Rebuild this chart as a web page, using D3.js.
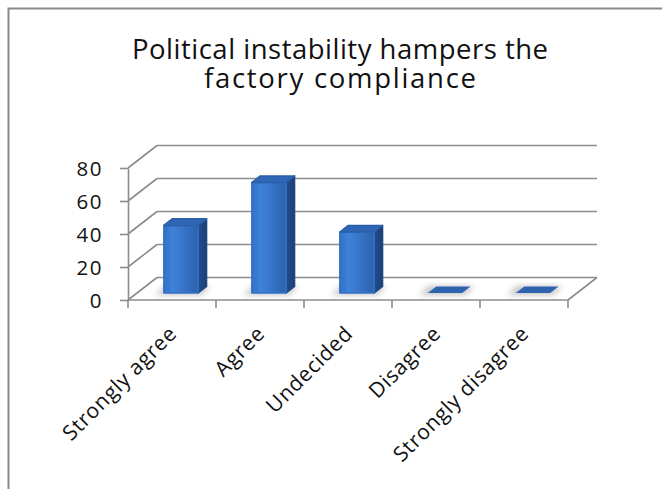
<!DOCTYPE html>
<html>
<head>
<meta charset="utf-8">
<script src="https://cdn.jsdelivr.net/npm/d3@7"></script>
<style>
  body { margin: 0; background: #fff; }
  svg { display: block; font-family: "Open Sans", Lato, sans-serif; }
</style>
</head>
<body>
<svg id="chart" width="662" height="489"></svg>
<script>
// data
const categories = ["Strongly agree", "Agree", "Undecided", "Disagree", "Strongly disagree"];
const values = [41, 67, 37, 0, 0];
const yTicks = [0, 20, 40, 60, 80];
const titleLines = ["Political instability hampers the", "factory compliance"];

const svg = d3.select("#chart");
const defs = svg.append("defs");

// chart frame (only top & left edges show in the crop)
svg.append("rect")
  .attr("x", 8.5).attr("y", 8.5)
  .attr("width", 700).attr("height", 520)
  .attr("fill", "none")
  .attr("stroke", "#8a8a8a")
  .attr("stroke-width", 2);

// scales
const x = d3.scaleBand().domain(categories).range([128, 568]);
const y = d3.scaleLinear().domain([0, 80]).range([300, 168]);
const DX = 29, DY = -22.5;       // full depth offset of the 3d box
const proj = (px, py, d) => [px + DX * d, py + DY * d];
const barFront = 0.31, barBack = 0.6;
const barW = x.bandwidth() * 0.39;

// title, one text with a tspan per line; spacing stretched to the original widths
const titleWidths = [416, 272];
svg.append("text")
  .attr("text-anchor", "middle")
  .attr("font-size", 27.5)
  .attr("fill", "#111")
  .selectAll("tspan")
  .data(titleLines)
  .join("tspan")
  .attr("x", 340)
  .attr("y", (d, i) => 59 + i * 29)
  .attr("textLength", (d, i) => titleWidths[i])
  .attr("lengthAdjust", "spacing")
  .text(d => d);

// walls and gridlines
const gridColor = "#8c8c8c";
const grid = svg.append("g")
  .attr("fill", "none")
  .attr("stroke", gridColor)
  .attr("stroke-width", 1.6);

// back wall lines
grid.selectAll(".back")
  .data(yTicks)
  .join("line")
  .attr("x1", d => proj(x.range()[0], y(d), 1)[0])
  .attr("y1", d => proj(x.range()[0], y(d), 1)[1])
  .attr("x2", d => proj(x.range()[1], y(d), 1)[0])
  .attr("y2", d => proj(x.range()[1], y(d), 1)[1]);

// side wall diagonals
grid.selectAll(".side")
  .data(yTicks)
  .join("line")
  .attr("x1", x.range()[0])
  .attr("y1", d => y(d))
  .attr("x2", d => proj(x.range()[0], y(d), 1)[0])
  .attr("y2", d => proj(x.range()[0], y(d), 1)[1]);

// floor: front edge and right edge
grid.append("line")
  .attr("x1", x.range()[0]).attr("y1", y(0))
  .attr("x2", x.range()[1]).attr("y2", y(0));
grid.append("line")
  .attr("x1", x.range()[1]).attr("y1", y(0))
  .attr("x2", proj(x.range()[1], y(0), 1)[0])
  .attr("y2", proj(x.range()[1], y(0), 1)[1]);

// y axis
const yAxis = svg.append("g")
  .attr("transform", `translate(${x.range()[0]},0)`)
  .call(d3.axisLeft(y).tickValues(yTicks).tickSize(8).tickSizeOuter(0).tickPadding(17));
yAxis.select(".domain").attr("stroke", gridColor).attr("stroke-width", 1.6);
yAxis.selectAll(".tick line").attr("stroke", gridColor).attr("stroke-width", 1.6);
yAxis.selectAll(".tick text")
  .attr("font-size", 20.5)
  .attr("letter-spacing", 1.5)
  .attr("font-family", "'Open Sans', sans-serif")
  .attr("fill", "#111")
  .attr("dy", "0.38em");

// x axis ticks at band boundaries
const bounds = categories.map(c => x(c)).concat([x.range()[1]]);
svg.append("g").selectAll("line")
  .data(bounds)
  .join("line")
  .attr("x1", d => d).attr("x2", d => d)
  .attr("y1", y(0)).attr("y2", y(0) + 8)
  .attr("stroke", gridColor)
  .attr("stroke-width", 1.6);

// x labels
svg.append("g").selectAll("text")
  .data(categories)
  .join("text")
  .attr("transform", d => `translate(${x(d) + x.bandwidth() / 2 + 6},335) rotate(-45)`)
  .attr("text-anchor", "end")
  .attr("font-size", 21)
  .attr("letter-spacing", 0.7)
  .attr("fill", "#111")
  .text(d => d);

// gradients
const gFront = defs.append("linearGradient").attr("id", "gFront")
  .attr("x1", 0).attr("x2", 1).attr("y1", 0).attr("y2", 0);
gFront.append("stop").attr("offset", "0%").attr("stop-color", "#3170c4");
gFront.append("stop").attr("offset", "25%").attr("stop-color", "#3f82da");
gFront.append("stop").attr("offset", "100%").attr("stop-color", "#2c62b0");
const gSide = defs.append("linearGradient").attr("id", "gSide")
  .attr("x1", 0).attr("x2", 1).attr("y1", 0).attr("y2", 0);
gSide.append("stop").attr("offset", "0%").attr("stop-color", "#234f8f");
gSide.append("stop").attr("offset", "100%").attr("stop-color", "#1b3f73");

defs.append("filter").attr("id", "blur")
  .attr("x", "-50%").attr("y", "-50%").attr("width", "200%").attr("height", "200%")
  .append("feGaussianBlur").attr("stdDeviation", 3);

const bars = values.map((v, i) => ({ cat: categories[i], v }));
const pts = a => a.map(p => p.join(",")).join(" ");

// shadows on the floor
svg.append("g").selectAll("polygon")
  .data(bars)
  .join("polygon")
  .attr("points", d => {
    const l = x(d.cat) + (x.bandwidth() - barW) / 2 - 7, r = l + barW + 11;
    return pts([proj(l, y(0), barFront - 0.06), proj(r, y(0), barFront - 0.06),
                proj(r, y(0), barBack), proj(l, y(0), barBack)]);
  })
  .attr("fill", "#8f8f8f")
  .attr("opacity", 0.6)
  .attr("filter", "url(#blur)");

// bars
const barG = svg.append("g").selectAll("g")
  .data(bars)
  .join("g");

barG.each(function(d) {
  const g = d3.select(this);
  const l = x(d.cat) + (x.bandwidth() - barW) / 2, r = l + barW;
  const top = y(d.v), bot = y(0);
  if (d.v === 0) {
    g.append("polygon")
      .attr("points", pts([proj(l, bot, barFront), proj(r, bot, barFront),
                           proj(r, bot, barBack), proj(l, bot, barBack)]))
      .attr("fill", "#2e63ad");
    return;
  }
  const f = [proj(l, top, barFront), proj(r, top, barFront), proj(r, bot, barFront), proj(l, bot, barFront)];
  const s = [proj(r, top, barFront), proj(r, top, barBack), proj(r, bot, barBack), proj(r, bot, barFront)];
  const t = [proj(l, top, barFront), proj(l, top, barBack), proj(r, top, barBack), proj(r, top, barFront)];
  g.append("polygon").attr("points", pts(s)).attr("fill", "url(#gSide)")
    .attr("stroke", "#1d4680").attr("stroke-width", 1.5).attr("stroke-linejoin", "round");
  g.append("polygon").attr("points", pts(f)).attr("fill", "url(#gFront)")
    .attr("stroke", "#3272c6").attr("stroke-width", 1.5).attr("stroke-linejoin", "round");
  g.append("polygon").attr("points", pts(t)).attr("fill", "#2f67b6")
    .attr("stroke", "#2b5fa8").attr("stroke-width", 1.5).attr("stroke-linejoin", "round");
});
</script>
</body>
</html>
